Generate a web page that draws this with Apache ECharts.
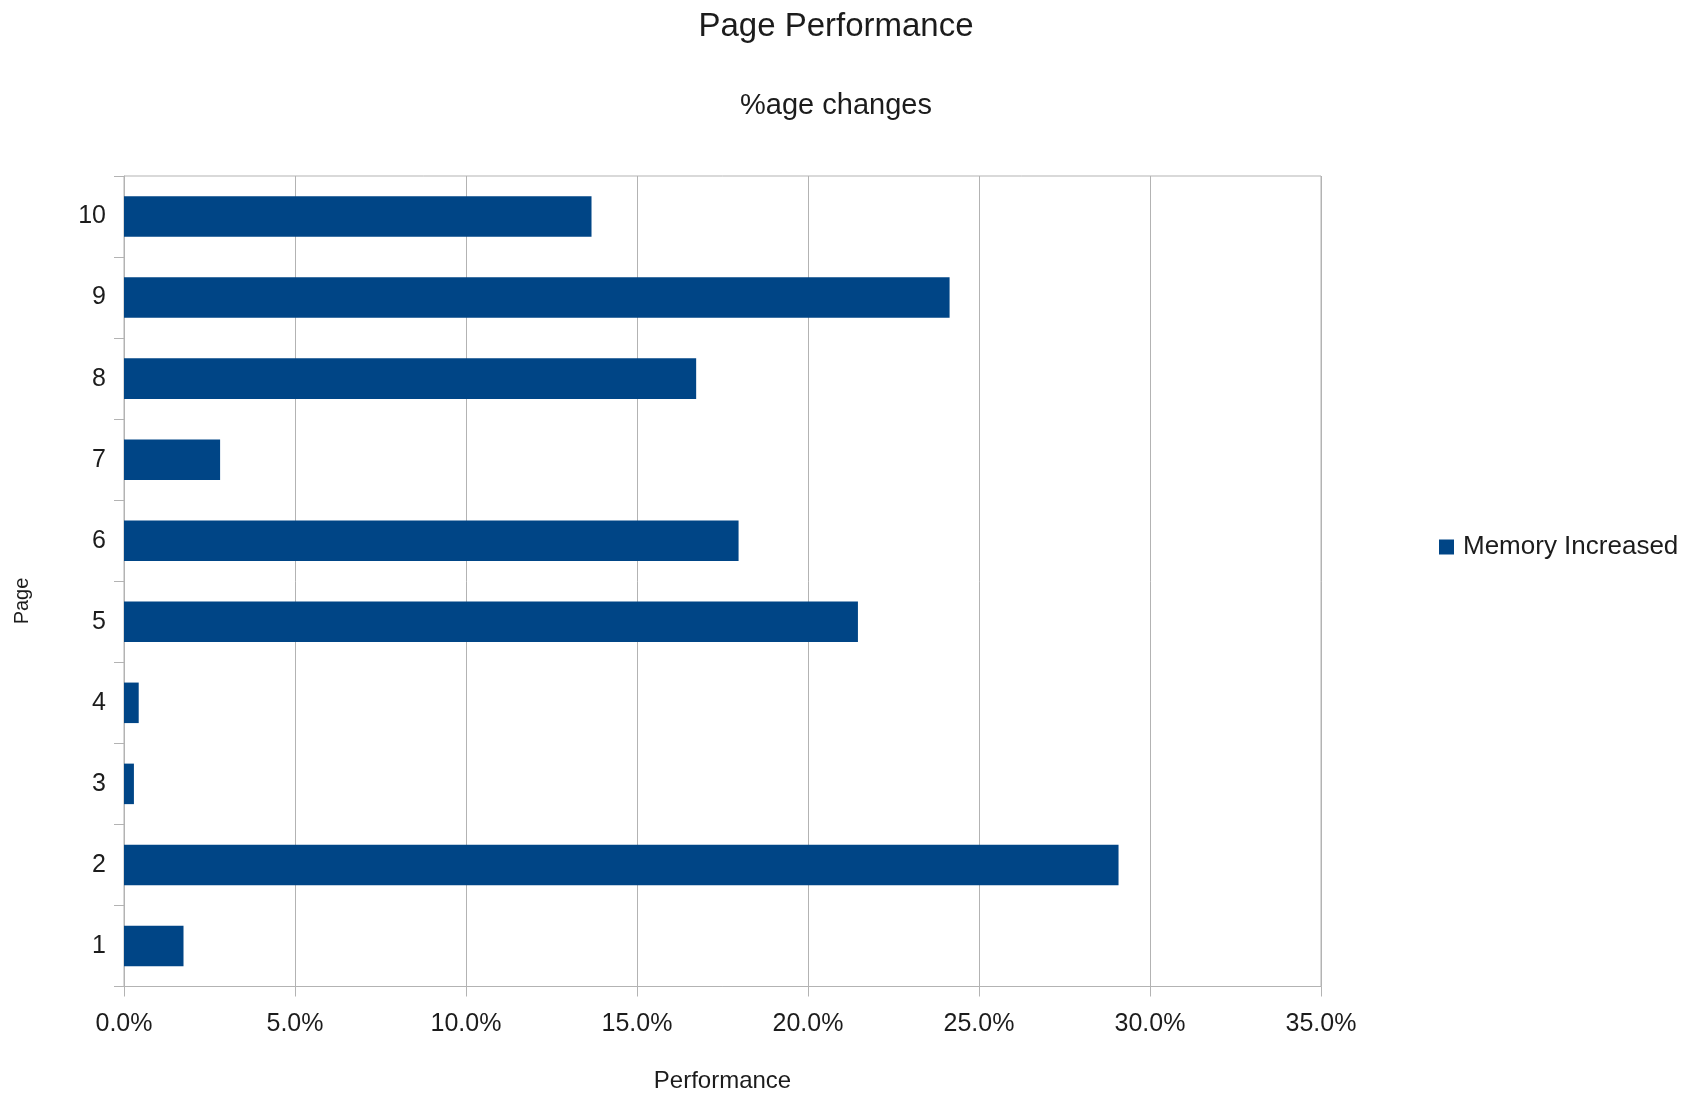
<!DOCTYPE html>
<html>
<head>
<meta charset="utf-8">
<script src="https://cdn.jsdelivr.net/npm/echarts@6/dist/echarts.min.js"></script>
<style>
html,body{margin:0;padding:0;background:#fff;}
#chart{width:1685px;height:1095px;}
</style>
</head>
<body>
<div id="chart"></div>
<script>
const categories = ['1','2','3','4','5','6','7','8','9','10'];
const memoryIncreased = [1.74, 29.08, 0.29, 0.43, 21.46, 17.97, 2.81, 16.73, 24.14, 13.67];
const seriesName = 'Memory Increased';
const xMin = 0, xMax = 35, xStep = 5;

const FONT = '"Liberation Sans", Arial, sans-serif';
const TXT = '#1c1c1c';
const GRID = '#b3b3b3';

const chart = echarts.init(document.getElementById('chart'), null, {renderer: 'canvas'});
chart.setOption({
  backgroundColor: '#ffffff',
  animation: false,
  textStyle: {fontFamily: FONT, color: TXT},
  title: [
    {text: 'Page Performance', left: 831, top: 5, textAlign: 'center',
     textStyle: {fontSize: 33, fontWeight: 'normal', color: TXT, fontFamily: FONT}},
    {text: '%age changes', left: 831, top: 86, textAlign: 'center',
     textStyle: {fontSize: 29, fontWeight: 'normal', color: TXT, fontFamily: FONT}}
  ],
  legend: {
    data: [seriesName], left: 1434, top: 529, itemWidth: 15, itemHeight: 15,
    icon: 'rect', textStyle: {fontSize: 26, color: TXT, fontFamily: FONT, padding: [0,0,0,4]}
  },
  grid: {left: 124, right: 364, top: 176, bottom: 108.5, show: true, borderColor: GRID, borderWidth: 1,
         containLabel: false, outerBoundsMode: 'none'},
  xAxis: {
    type: 'value', min: xMin, max: xMax, interval: xStep,
    name: 'Performance', nameLocation: 'middle', nameGap: 83,
    nameTextStyle: {fontSize: 24, color: TXT, fontFamily: FONT},
    axisLine: {show: true, lineStyle: {color: GRID, width: 1}},
    axisTick: {show: true, length: 10, lineStyle: {color: GRID}},
    splitLine: {show: true, lineStyle: {color: GRID, width: 1}},
    axisLabel: {fontSize: 25, color: TXT, margin: 25, formatter: v => v.toFixed(1) + '%'}
  },
  yAxis: {
    type: 'category', data: categories,
    axisLine: {show: true, lineStyle: {color: GRID, width: 1}},
    axisTick: {show: true, length: 10, lineStyle: {color: GRID}},
    splitLine: {show: false},
    axisLabel: {fontSize: 25, color: TXT, margin: 18, padding: [9,0,0,0]}
  },
  graphic: [{
    type: 'text', x: 22, y: 601, rotation: Math.PI / 2,
    style: {text: 'Page', fontSize: 20, fill: TXT, fontFamily: FONT, align: 'center', verticalAlign: 'middle'}
  }],
  series: [{
    name: seriesName, type: 'bar', data: memoryIncreased,
    barCategoryGap: '50%', itemStyle: {color: '#004586'}
  }]
});
</script>
</body>
</html>
